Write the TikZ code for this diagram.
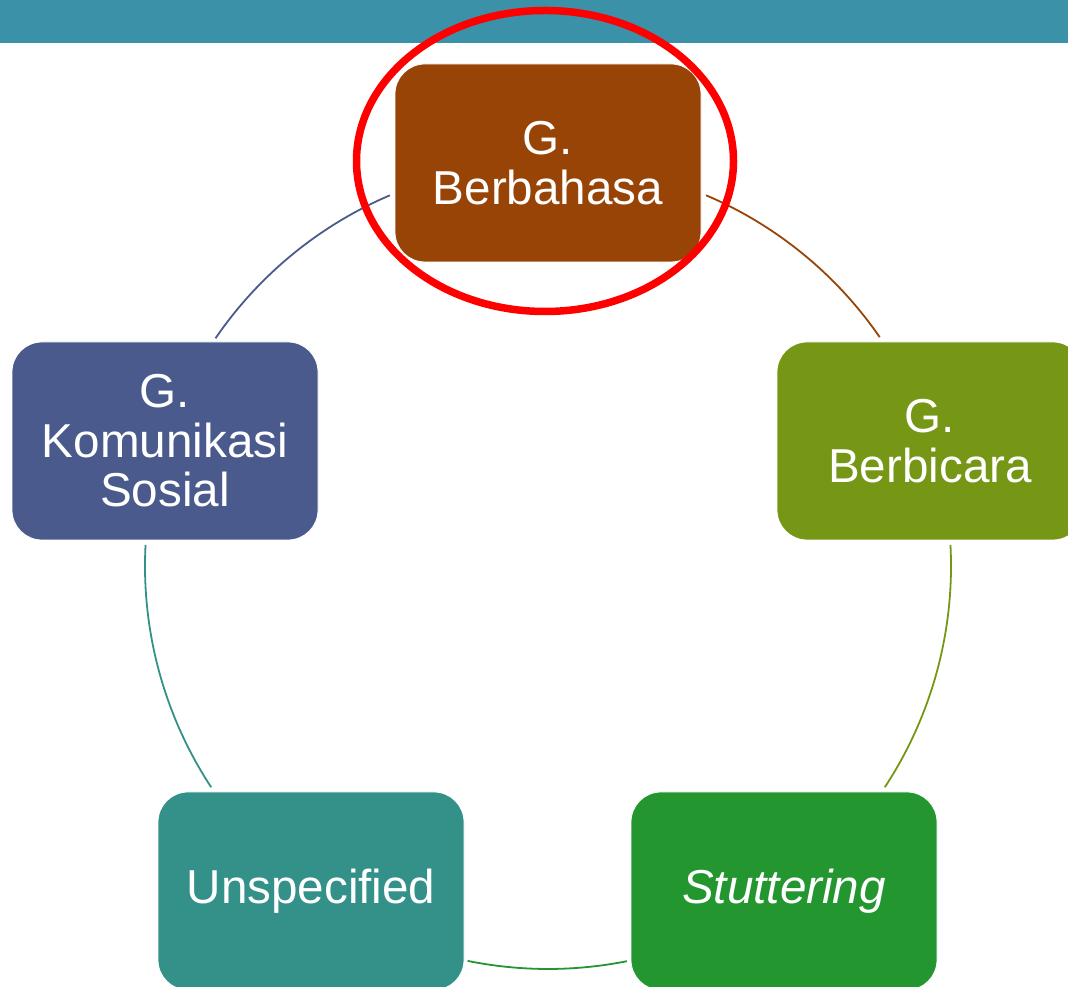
\documentclass[tikz,border=0pt]{standalone}
\usepackage{fontspec}
\setmainfont{Liberation Sans}
\definecolor{barc}{RGB}{58,145,168}
\definecolor{cbrown}{RGB}{152,68,6}
\definecolor{colive}{RGB}{118,150,22}
\definecolor{cgreen}{RGB}{35,150,48}
\definecolor{cteal}{RGB}{52,145,137}
\definecolor{cblue}{RGB}{74,90,140}
\definecolor{cred}{RGB}{255,0,0}
\begin{document}
\begin{tikzpicture}[x=1pt,y=1pt,
  box/.style={rounded corners=30pt, minimum width=306pt, minimum height=198pt,
    inner sep=0pt, text=white, align=center,
    font=\fontsize{47.6}{49.5}\selectfont, draw=white, line width=0.8pt},
  link/.style={line width=1.8pt},
  mark ring/.style={draw=cred, line width=7.5pt}]
\useasboundingbox (0,0) rectangle (1068,987);
\clip (0,0) rectangle (1068,987);
\fill[barc] (0,944) rectangle (1068,987);
\coordinate (c) at (548,421);
% arcs
\draw[link, cbrown] (c) ++(66.9:403) arc[start angle=66.9, end angle=34.6, radius=403];
\draw[link, colive] (c) ++(3:403) arc[start angle=3, end angle=-33.3, radius=403];
\draw[link, cgreen] (c) ++(-78.7:403) arc[start angle=-78.7, end angle=-101.5, radius=403];
\draw[link, cteal] (c) ++(213.3:403) arc[start angle=213.3, end angle=177, radius=403];
\draw[link, cblue] (c) ++(145.6:403) arc[start angle=145.6, end angle=113.1, radius=403];
% nodes
\node[box, fill=cbrown] (ber) at (548,824) {G.\\Berbahasa};
\node[box, fill=colive] (bic) at (930,546) {G.\\Berbicara};
\node[box, fill=cgreen] (stu) at (784,96) {\itshape Stuttering};
\node[box, fill=cteal] (uns) at (311,96) {Unspecified};
\node[box, fill=cblue] (kom) at (165,546) {G.\\Komunikasi\\Sosial};
% highlight ellipse
\draw[mark ring] (545,826) ellipse[x radius=188.5, y radius=150.5];
\end{tikzpicture}
\end{document}
